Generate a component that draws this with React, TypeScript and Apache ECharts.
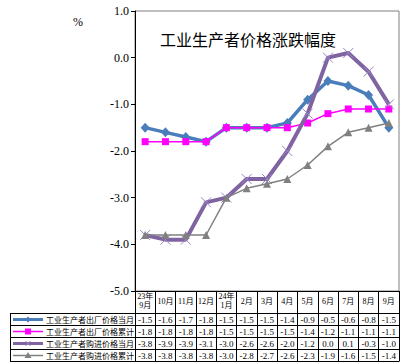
import React, { useEffect, useRef } from "react";
import * as echarts from "echarts";

const categories = ["23年\n9月", "10月", "11月", "12月", "24年\n1月", "2月", "3月", "4月", "5月", "6月", "7月", "8月", "9月"];
const seriesNames = ["工业生产者出厂价格当月", "工业生产者出厂价格累计", "工业生产者购进价格当月", "工业生产者购进价格累计"];
const outMonthly = [-1.5, -1.6, -1.7, -1.8, -1.5, -1.5, -1.5, -1.4, -0.9, -0.5, -0.6, -0.8, -1.5];
const outCumulative = [-1.8, -1.8, -1.8, -1.8, -1.5, -1.5, -1.5, -1.5, -1.4, -1.2, -1.1, -1.1, -1.1];
const inMonthly = [-3.8, -3.9, -3.9, -3.1, -3.0, -2.6, -2.6, -2.0, -1.2, 0.0, 0.1, -0.3, -1.0];
const inCumulative = [-3.8, -3.8, -3.8, -3.8, -3.0, -2.8, -2.7, -2.6, -2.3, -1.9, -1.6, -1.5, -1.4];
const titleText = "工业生产者价格涨跌幅度";
const unitText = "%";

const SERIF = "'Liberation Serif', 'Times New Roman', 'Noto Sans CJK SC', serif";
const CJK = "'Noto Sans CJK SC', sans-serif";

export default function App() {
  const ref = useRef<HTMLDivElement>(null);
  useEffect(() => {
    if (!ref.current) return;
    const chart = echarts.init(ref.current, null, { renderer: "svg" });
    const gridLeft = 135;
    const gridTop = 11;
    const gridRight = 399;
    const gridBottom = 291;
    const tableLeft = 10;
    const rowTop = 313;
    const rowH = 12;
    const colW = (gridRight - gridLeft) / categories.length;
    const allData = [outMonthly, outCumulative, inMonthly, inCumulative];
    const colors = ["#4a7ebb", "#ff00ff", "#8064a2", "#808080"];

    const graphics: any[] = [];
    for (let r = 0; r <= allData.length; r++) {
      const y = rowTop + r * rowH + 0.5;
      graphics.push({ type: "line", shape: { x1: tableLeft, y1: y, x2: gridRight + 0.5, y2: y }, style: { stroke: "#000", lineWidth: 1 }, z: 10 });
    }
    graphics.push({ type: "line", shape: { x1: tableLeft + 0.5, y1: rowTop, x2: tableLeft + 0.5, y2: rowTop + rowH * allData.length + 1 }, style: { stroke: "#000", lineWidth: 1 }, z: 10 });
    allData.forEach((arr, r) => {
      const cy = rowTop + r * rowH + rowH / 2 + 0.5;
      arr.forEach((v, i) => {
        graphics.push({
          type: "text",
          x: gridLeft + (i + 0.5) * colW,
          y: cy,
          style: { text: v.toFixed(1), fontSize: 9, fontFamily: SERIF, fill: "#000", align: "center", verticalAlign: "middle" },
          z: 10,
        });
      });
      graphics.push({
        type: "text",
        x: 46,
        y: cy,
        style: { text: seriesNames[r], fontSize: 8, fontFamily: CJK, fill: "#000", align: "left", verticalAlign: "middle" },
        z: 10,
      });
      const thick = r === 0 || r === 2;
      graphics.push({ type: "line", shape: { x1: 13, y1: cy, x2: 43, y2: cy }, style: { stroke: colors[r], lineWidth: thick ? 3 : 1.5 }, z: 10 });
      const mx = 28;
      if (r === 0) {
        graphics.push({ type: "polygon", shape: { points: [[mx, cy - 3], [mx + 3, cy], [mx, cy + 3], [mx - 3, cy]] }, style: { fill: colors[r] }, z: 11 });
      } else if (r === 1) {
        graphics.push({ type: "rect", shape: { x: mx - 3, y: cy - 3, width: 6, height: 6 }, style: { fill: colors[r] }, z: 11 });
      } else if (r === 2) {
        graphics.push({ type: "line", shape: { x1: mx - 2.5, y1: cy - 2.5, x2: mx + 2.5, y2: cy + 2.5 }, style: { stroke: "#9b85c4", lineWidth: 1 }, z: 11 });
        graphics.push({ type: "line", shape: { x1: mx - 2.5, y1: cy + 2.5, x2: mx + 2.5, y2: cy - 2.5 }, style: { stroke: "#9b85c4", lineWidth: 1 }, z: 11 });
      } else {
        graphics.push({ type: "polygon", shape: { points: [[mx, cy - 3.5], [mx + 3.5, cy + 2.5], [mx - 3.5, cy + 2.5]] }, style: { fill: colors[r] }, z: 11 });
      }
    });
    graphics.push({ type: "text", x: 78, y: 22, style: { text: unitText, fontSize: 12, fontFamily: SERIF, fill: "#000", align: "center", verticalAlign: "middle" } });
    graphics.push({ type: "text", x: 160, y: 39, style: { text: titleText, fontSize: 16, fontFamily: CJK, fill: "#000", align: "left", verticalAlign: "middle" } });

    const crossPath = "path://M0,0L10,10M10,0L0,10";

    chart.setOption({
      animation: false,
      grid: {
        left: gridLeft,
        top: gridTop,
        width: gridRight - gridLeft,
        height: gridBottom - gridTop,
        show: true,
        borderColor: "#808080",
        borderWidth: 1,
        backgroundColor: "transparent",
      },
      xAxis: {
        type: "category",
        data: categories,
        boundaryGap: true,
        axisLine: { onZero: false, lineStyle: { color: "#000", width: 1 } },
        axisTick: { show: true, length: 70, interval: 0, alignWithLabel: false, lineStyle: { color: "#000", width: 1 } },
        axisLabel: { interval: 0, rotate: 0, hideOverlap: false, fontSize: 8, lineHeight: 9, verticalAlign: "middle", margin: 10, color: "#000", fontFamily: SERIF },
        splitLine: { show: false },
      },
      yAxis: {
        type: "value",
        min: -5,
        max: 1,
        interval: 1,
        axisLine: { show: true, lineStyle: { color: "#000", width: 1 } },
        axisTick: { show: true, length: 4, lineStyle: { color: "#000" } },
        axisLabel: { formatter: (v: number) => v.toFixed(1), fontSize: 12, color: "#000", fontFamily: SERIF, margin: 6 },
        splitLine: { show: false },
      },
      series: [
        {
          name: seriesNames[0],
          type: "line",
          data: outMonthly,
          symbol: "diamond",
          symbolSize: [9, 10],
          lineStyle: { color: colors[0], width: 3.5 },
          itemStyle: { color: colors[0] },
          z: 2,
        },
        {
          name: seriesNames[1],
          type: "line",
          data: outCumulative,
          symbol: "rect",
          symbolSize: 7,
          lineStyle: { color: colors[1], width: 1.5 },
          itemStyle: { color: colors[1] },
          z: 3,
        },
        {
          name: seriesNames[2],
          type: "line",
          data: inMonthly,
          symbol: crossPath,
          symbolSize: 10,
          lineStyle: { color: colors[2], width: 4 },
          itemStyle: { color: "none", borderColor: "#9b85c4", borderWidth: 1 },
          z: 4,
        },
        {
          name: seriesNames[3],
          type: "line",
          data: inCumulative,
          symbol: "triangle",
          symbolSize: 8,
          lineStyle: { color: colors[3], width: 1.5 },
          itemStyle: { color: colors[3] },
          z: 5,
        },
      ],
      graphic: graphics,
    });
    return () => chart.dispose();
  }, []);
  return <div ref={ref} style={{ position: "absolute", left: 0, top: 0, width: 402, height: 364 }} />;
}
